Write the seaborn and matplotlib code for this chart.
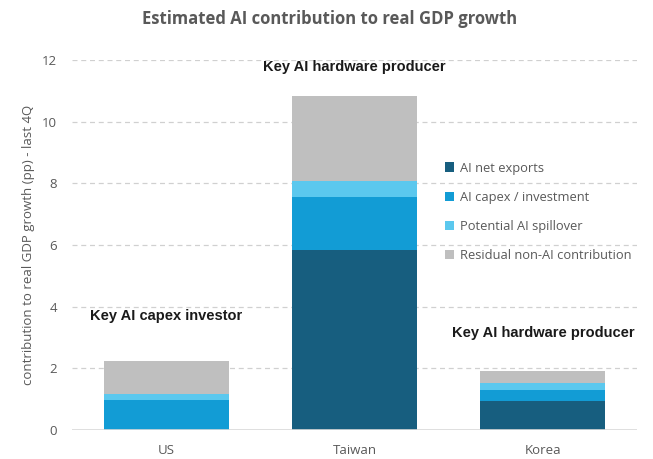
import matplotlib
matplotlib.use("Agg")
import matplotlib.pyplot as plt
import seaborn as sns
import numpy as np
import pandas as pd

# Contribution to real GDP growth (pp), last 4 quarters
countries = ["US", "Taiwan", "Korea"]
net_exports = [0.0, 5.84, 0.95]
capex = [0.97, 1.72, 0.35]
spillover = [0.20, 0.50, 0.22]
residual = [1.08, 2.76, 0.39]

components = ["AI net exports", "AI capex / investment",
              "Potential AI spillover", "Residual non-AI contribution"]
colors = ["#175E7F", "#129CD5", "#5BC8EE", "#BFBFBF"]

annotations = [("Key AI capex investor", 0, 3.7),
               ("Key AI hardware producer", 1, 11.78),
               ("Key AI hardware producer", 2, 3.15)]

sns.set_theme(style="white")
plt.rcParams["font.family"] = ["Open Sans", "DejaVu Sans"]

fig = plt.figure(figsize=(6.53, 4.59), dpi=100)
ax = fig.add_axes([72 / 653, 1 - 430 / 459, (637 - 72) / 653, (430 - 60) / 459])

series = [net_exports, capex, spillover, residual]
bottom = np.zeros(len(countries))
for name, vals, col in zip(components, series, colors):
    df = pd.DataFrame({"country": countries, "value": vals})
    sns.barplot(data=df, x="country", y="value", bottom=bottom, color=col,
                saturation=1, width=0.665, ax=ax, label=name, zorder=3,
                linewidth=0)
    bottom = bottom + np.array(vals)

ax.set_ylim(0, 12)
ax.set_xlim(-0.5, 2.5)
ax.set_yticks(range(0, 13, 2))
for y in range(2, 13, 2):
    ax.axhline(y, color="#D0D0D0", lw=0.9, ls=(0, (4, 3)), zorder=1)
ax.axhline(0, color="#D9D9D9", lw=1.2, zorder=4)

for s in ax.spines.values():
    s.set_visible(False)

ax.tick_params(axis="both", length=0, labelsize=9.5, labelcolor="#595959")
ax.tick_params(axis="y", pad=11)
ax.tick_params(axis="x", pad=10)
ax.set_xlabel("")
ax.set_ylabel("contribution to real GDP growth (pp) - last 4Q",
              fontsize=9.5, color="#595959", labelpad=5)

for text, xi, yi in annotations:
    ax.text(xi, yi, text, ha="center", va="center", fontsize=10.5,
            fontweight="bold", color="#1A1A1A",
            family=["Liberation Sans", "DejaVu Sans"], zorder=5)

leg = ax.legend(loc="upper left", bbox_to_anchor=(0.64, 0.757), frameon=False,
                fontsize=9.3, labelcolor="#595959", handlelength=0.7,
                handleheight=0.7, handletextpad=0.45, labelspacing=1.24)

fig.text(0.505, 0.958, "Estimated AI contribution to real GDP growth",
         ha="center", va="center", fontsize=12, fontweight="bold",
         color="#595959")

fig.savefig("out.png", dpi=100)
